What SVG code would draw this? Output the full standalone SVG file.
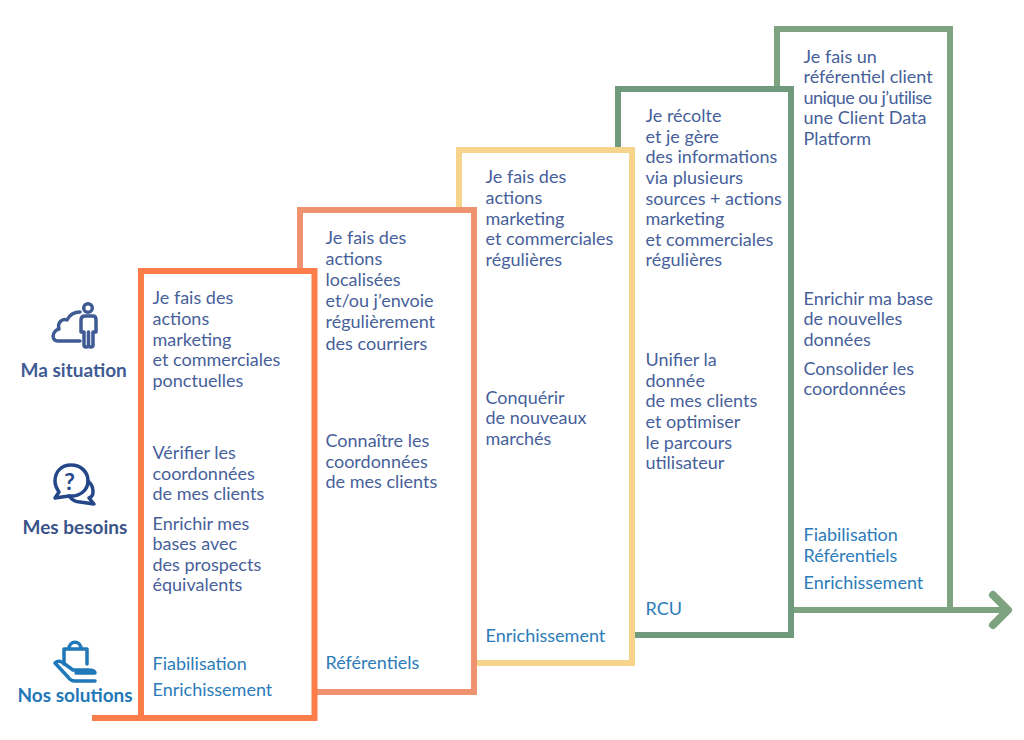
<svg xmlns="http://www.w3.org/2000/svg" width="1024" height="740" viewBox="0 0 1024 740">
<style>
text{font-family:"Lato","Noto Sans",sans-serif;font-size:18px;transform:translate(-.5px,.2px)}
.d{fill:#475f9a}
.s{fill:#2c7cba}
.h{font-weight:700;font-size:19px}
.b{fill:#fff;stroke-width:6}
.ic{fill:none;stroke-width:3.5;stroke-linecap:round;stroke-linejoin:round}
</style>
<rect width="1024" height="740" fill="#fff"/>
<g id="connectors" fill="none" stroke-width="6">
<path d="M92 718H317" stroke="#fc7c4a"/>
<path d="M792 610H1006" stroke="#7ea380"/>
<path d="M993 595L1008 610L993 625" stroke="#7ea380" stroke-width="8" stroke-linecap="round" stroke-linejoin="round"/>
</g>
<g id="step5"><rect class="b" x="777" y="29" width="173" height="581" stroke="#7ea380"/>
<text class="d"><tspan x="804" y="63">Je fais un</tspan><tspan x="804" y="83">référentiel client</tspan><tspan x="804" y="104" style="letter-spacing:-.55px">unique ou j’utilise</tspan><tspan x="804" y="124">une Client Data</tspan><tspan x="804" y="145">Platform</tspan></text>
<text class="d"><tspan x="804" y="305">Enrichir ma base</tspan><tspan x="804" y="325">de nouvelles</tspan><tspan x="804" y="346">données</tspan><tspan x="804" y="375">Consolider les</tspan><tspan x="804" y="395">coordonnées</tspan></text>
<text class="s"><tspan x="804" y="541">Fiabilisation</tspan><tspan x="804" y="562">Référentiels</tspan><tspan x="804" y="589">Enrichissement</tspan></text></g>
<g id="step4"><rect class="b" x="618" y="89" width="173" height="546" stroke="#6f9a7c"/>
<text class="d"><tspan x="646" y="122">Je récolte</tspan><tspan x="646" y="143">et je gère</tspan><tspan x="646" y="163">des informations</tspan><tspan x="646" y="184">via plusieurs</tspan><tspan x="646" y="205">sources + actions</tspan><tspan x="646" y="225">marketing</tspan><tspan x="646" y="246">et commerciales</tspan><tspan x="646" y="266">régulières</tspan></text>
<text class="d"><tspan x="646" y="366">Unifier la</tspan><tspan x="646" y="387">donnée</tspan><tspan x="646" y="407">de mes clients</tspan><tspan x="646" y="428">et optimiser</tspan><tspan x="646" y="449">le parcours</tspan><tspan x="646" y="469">utilisateur</tspan></text>
<text class="s" x="646" y="615">RCU</text></g>
<g id="step3"><rect class="b" x="459" y="150" width="173" height="513" stroke="#f6d48c"/>
<text class="d"><tspan x="486" y="183">Je fais des</tspan><tspan x="486" y="204">actions</tspan><tspan x="486" y="225">marketing</tspan><tspan x="486" y="245">et commerciales</tspan><tspan x="486" y="266">régulières</tspan></text>
<text class="d"><tspan x="486" y="404">Conquérir</tspan><tspan x="486" y="424">de nouveaux</tspan><tspan x="486" y="445">marchés</tspan></text>
<text class="s" x="486" y="642">Enrichissement</text></g>
<g id="step2"><rect class="b" x="300" y="210" width="174" height="482" stroke="#ee9270"/>
<text class="d"><tspan x="326" y="244">Je fais des</tspan><tspan x="326" y="265">actions</tspan><tspan x="326" y="286">localisées</tspan><tspan x="326" y="307">et/ou j’envoie</tspan><tspan x="326" y="328">régulièrement</tspan><tspan x="326" y="350">des courriers</tspan></text>
<text class="d"><tspan x="326" y="447">Connaître les</tspan><tspan x="326" y="468">coordonnées</tspan><tspan x="326" y="488">de mes clients</tspan></text>
<text class="s" x="326" y="669">Référentiels</text></g>
<g id="step1"><rect class="b" x="141" y="271" width="173.500" height="447" stroke="#fc7c4a"/>
<text class="d"><tspan x="153" y="304">Je fais des</tspan><tspan x="153" y="325">actions</tspan><tspan x="153" y="346">marketing</tspan><tspan x="153" y="366">et commerciales</tspan><tspan x="153" y="387">ponctuelles</tspan></text>
<text class="d"><tspan x="153" y="459">Vérifier les</tspan><tspan x="153" y="480">coordonnées</tspan><tspan x="153" y="500">de mes clients</tspan><tspan x="153" y="530">Enrichir mes</tspan><tspan x="153" y="550">bases avec</tspan><tspan x="153" y="571">des prospects</tspan><tspan x="153" y="591">équivalents</tspan></text>
<text class="s"><tspan x="153" y="670">Fiabilisation</tspan><tspan x="153" y="696">Enrichissement</tspan></text></g>
<g id="ma-situation"><g class="ic" stroke="#3f5b94"><path d="M80 312C73 312 69 316 67 320C62 318 57 323 59 329C52 331 50 342 60 341H80"/><circle cx="88" cy="308" r="4.300"/><path d="M84 332H81V320Q81 316 85 316H93Q96 316 96 320V332H93V345Q93 347 91 347Q88.500 347 88.500 345V332M88.500 345Q88.500 347 86 347Q84 347 84 345V332"/></g>
<text class="d h" x="21" y="377" style="fill:#3f5b94">Ma situation</text></g>
<g id="mes-besoins"><g class="ic" stroke="#24478a"><path d="M71 465C61 465 55 472 55 481C55 486 57 489 59 492L55 498L69 496C80 497 88 490 88 481C88 472 81 465 71 465Z"/><path d="M88 481C94 486 95 496 89 498L94 504L80 502C76 502 72 500 69 496"/></g>
<text x="70" y="490" text-anchor="middle" fill="#24478a" style="font-weight:700;font-size:23px">?</text>
<text class="h" x="23" y="534" fill="#3a5488">Mes besoins</text></g>
<g id="nos-solutions"><g class="ic" stroke="#1f78b8"><path d="M64 664V649H87V664M69 649C69 640 81 640 81 649"/><path d="M55 663C57 661 60 661 62 662L73 670H88C93 670 95 671 95 673H76M55 663L68 677C70 680 72 681 75 681H95"/></g>
<text class="h" x="18" y="702" fill="#1f78b8">Nos solutions</text></g>
</svg>
